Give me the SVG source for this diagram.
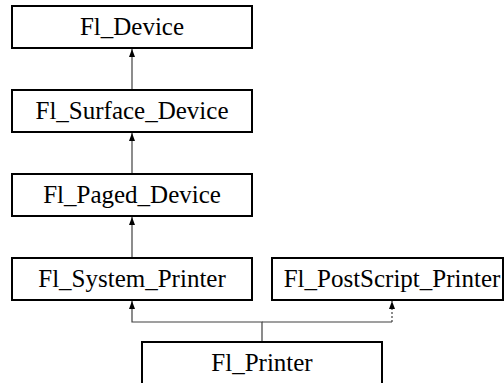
<svg xmlns="http://www.w3.org/2000/svg" width="504" height="383" viewBox="0 0 504 383">
<defs>
<style>
.box{fill:#fff;stroke:#000;stroke-width:2}
.lbl{font-family:'Liberation Serif','Times New Roman',serif;font-size:25px;fill:#000;text-anchor:middle}
.edge{fill:none;stroke:#404040;stroke-width:1.2}
.dash{stroke-dasharray:2,2}
</style>
<marker id="ah" markerWidth="8" markerHeight="6" refX="8" refY="3" orient="auto" markerUnits="userSpaceOnUse" viewBox="0 0 8 6">
<path d="M0,0 L8,3 L0,6 Z" fill="#000"/>
</marker>
</defs>
<rect width="504" height="383" fill="#fff"/>
<g id="connectors">
<path class="edge" d="M132,90 V49" marker-end="url(#ah)"/>
<path class="edge" d="M132,174 V133" marker-end="url(#ah)"/>
<path class="edge" d="M132,258 V217" marker-end="url(#ah)"/>
<path class="edge" d="M262,342 V322 H132 V301" marker-end="url(#ah)"/>
<path class="edge" d="M262,322 H392"/>
<path class="edge dash" d="M392,322 V301" marker-end="url(#ah)"/>
</g>
<g id="Fl_Device">
<rect class="box" x="12" y="6" width="240" height="42"/>
<text class="lbl" x="132" y="35">Fl_Device</text>
</g>
<g id="Fl_Surface_Device">
<rect class="box" x="12" y="90" width="240" height="42"/>
<text class="lbl" x="132" y="119">Fl_Surface_Device</text>
</g>
<g id="Fl_Paged_Device">
<rect class="box" x="12" y="174" width="240" height="42"/>
<text class="lbl" x="132" y="203">Fl_Paged_Device</text>
</g>
<g id="Fl_System_Printer">
<rect class="box" x="12" y="258" width="240" height="42"/>
<text class="lbl" x="132" y="287">Fl_System_Printer</text>
</g>
<g id="Fl_PostScript_Printer">
<rect class="box" x="272" y="258" width="231" height="42"/>
<text class="lbl" x="392" y="287">Fl_PostScript_Printer</text>
</g>
<g id="Fl_Printer">
<rect class="box" x="142" y="342" width="240" height="42"/>
<text class="lbl" x="262" y="371">Fl_Printer</text>
</g>
</svg>
